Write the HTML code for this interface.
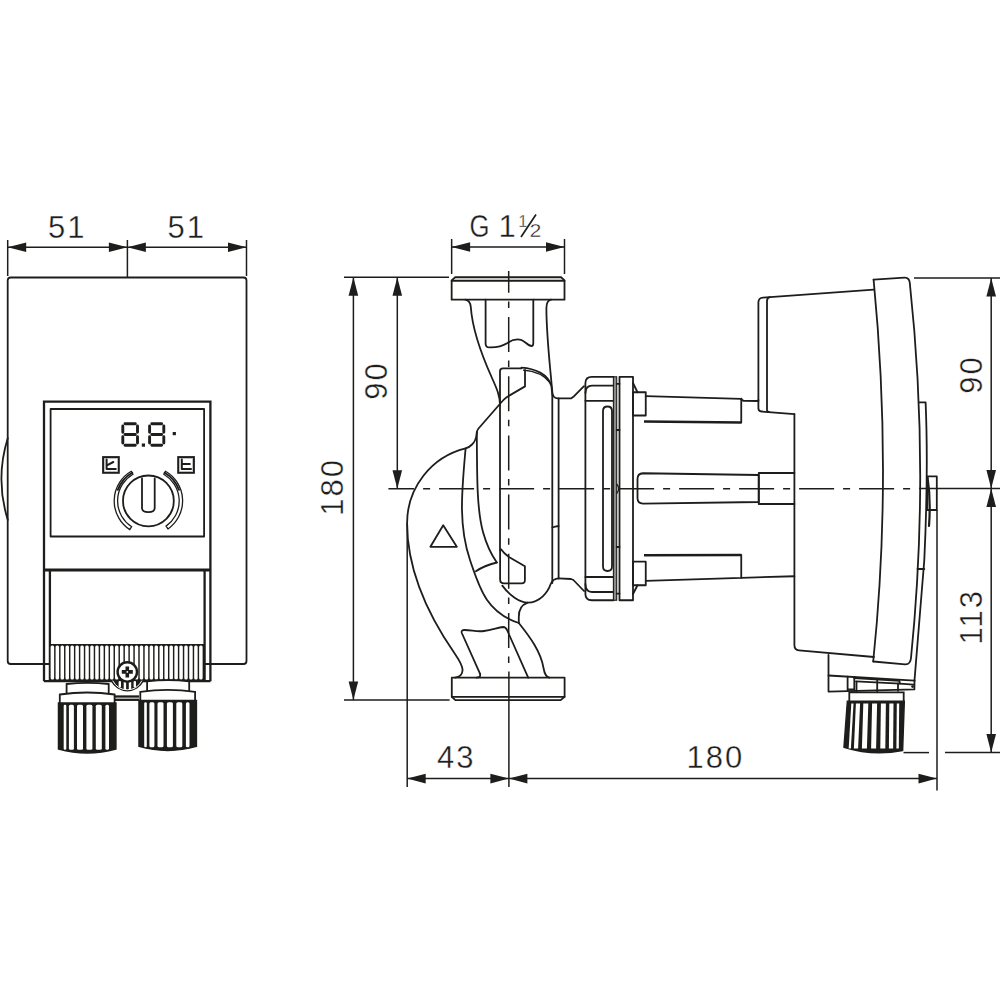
<!DOCTYPE html>
<html><head><meta charset="utf-8"><style>
html,body{margin:0;padding:0;background:#fff;overflow:hidden;}
svg{display:block;}
.d{stroke:#1d1d1b;stroke-width:1.5;fill:none;}
.o{stroke:#1d1d1b;stroke-width:1.8;fill:none;stroke-linejoin:round;stroke-linecap:round;}
.o1{stroke:#1d1d1b;stroke-width:1.3;fill:none;}
.ow{stroke:#1d1d1b;stroke-width:1.8;fill:#fff;}
.o2{stroke:#1d1d1b;stroke-width:2.3;fill:none;}
.o3{stroke:#1d1d1b;stroke-width:3.2;fill:none;}
.kb{stroke:#1d1d1b;stroke-width:1.5;fill:#1d1d1b;}
.wf{fill:#fff;stroke:none;}
.seg{stroke:#1d1d1b;stroke-width:2.9;fill:none;stroke-linecap:round;}
.f{fill:#1d1d1b;stroke:none;}
.gk{stroke:#1d1d1b;stroke-width:1.1;fill:#8a8a8a;}
.ah{fill:#1d1d1b;stroke:none;}
.cl{stroke:#1d1d1b;stroke-width:1.5;fill:none;}
.sl{stroke:#1d1d1b;stroke-width:2;}
.sl2{stroke:#1d1d1b;stroke-width:1.7;}
.t{font-family:"Liberation Sans",sans-serif;font-size:31px;fill:#1d1d1b;stroke:#fff;stroke-width:0.35px;paint-order:fill;}
</style></head><body>
<svg width="1000" height="1000" viewBox="0 0 1000 1000">
<line x1="7.7" y1="240" x2="7.7" y2="276" class="d"/>
<line x1="127.4" y1="240" x2="127.4" y2="278" class="d"/>
<line x1="246.5" y1="240" x2="246.5" y2="276" class="d"/>
<line x1="7.7" y1="247.3" x2="127.4" y2="247.3" class="d"/>
<path d="M7.7,247.3 L26.2,242.5 L26.2,252.1 Z" class="ah"/>
<path d="M127.4,247.3 L108.9,252.1 L108.9,242.5 Z" class="ah"/>
<line x1="127.4" y1="247.3" x2="246.5" y2="247.3" class="d"/>
<path d="M127.4,247.3 L145.9,242.5 L145.9,252.1 Z" class="ah"/>
<path d="M246.5,247.3 L228.0,252.1 L228.0,242.5 Z" class="ah"/>
<text x="67.25" y="238" class="t" text-anchor="middle" letter-spacing="2.0">51</text>
<text x="186.65" y="238" class="t" text-anchor="middle" letter-spacing="2.0">51</text>
<rect x="7.7" y="277.5" width="238.8" height="386.5" rx="3" class="o"/>
<path d="M7.8,438 Q-5,479 7.8,520" class="o" />
<path d="M44,681.2 V401.6 H210.4 V681.2" class="o2" />
<rect x="50.6" y="409" width="153.5" height="127.5" class="o"/>
<line x1="44" y1="570" x2="210.4" y2="570" class="o3"/>
<line x1="49.9" y1="570" x2="49.9" y2="681.2" class="o2"/>
<line x1="204.6" y1="570" x2="204.6" y2="681.2" class="o2"/>
<path d="M44,681.2 H210.4" class="o2" />
<rect x="49.9" y="644" width="154.7" height="37" class="f"/>
<rect x="50.62" y="645.6" width="3.5" height="34" rx="1.5" class="wf"/>
<rect x="55.58" y="645.6" width="3.5" height="34" rx="1.5" class="wf"/>
<rect x="60.53" y="645.6" width="3.5" height="34" rx="1.5" class="wf"/>
<rect x="65.48" y="645.6" width="3.5" height="34" rx="1.5" class="wf"/>
<rect x="70.43" y="645.6" width="3.5" height="34" rx="1.5" class="wf"/>
<rect x="75.38" y="645.6" width="3.5" height="34" rx="1.5" class="wf"/>
<rect x="80.33" y="645.6" width="3.5" height="34" rx="1.5" class="wf"/>
<rect x="85.28" y="645.6" width="3.5" height="34" rx="1.5" class="wf"/>
<rect x="90.23" y="645.6" width="3.5" height="34" rx="1.5" class="wf"/>
<rect x="95.18" y="645.6" width="3.5" height="34" rx="1.5" class="wf"/>
<rect x="100.13" y="645.6" width="3.5" height="34" rx="1.5" class="wf"/>
<rect x="105.08" y="645.6" width="3.5" height="34" rx="1.5" class="wf"/>
<rect x="110.03" y="645.6" width="3.5" height="34" rx="1.5" class="wf"/>
<rect x="114.98" y="645.6" width="3.5" height="34" rx="1.5" class="wf"/>
<rect x="119.93" y="645.6" width="3.5" height="34" rx="1.5" class="wf"/>
<rect x="124.88" y="645.6" width="3.5" height="34" rx="1.5" class="wf"/>
<rect x="129.83" y="645.6" width="3.5" height="34" rx="1.5" class="wf"/>
<rect x="134.78" y="645.6" width="3.5" height="34" rx="1.5" class="wf"/>
<rect x="139.73" y="645.6" width="3.5" height="34" rx="1.5" class="wf"/>
<rect x="144.68" y="645.6" width="3.5" height="34" rx="1.5" class="wf"/>
<rect x="149.62" y="645.6" width="3.5" height="34" rx="1.5" class="wf"/>
<rect x="154.57" y="645.6" width="3.5" height="34" rx="1.5" class="wf"/>
<rect x="159.52" y="645.6" width="3.5" height="34" rx="1.5" class="wf"/>
<rect x="164.47" y="645.6" width="3.5" height="34" rx="1.5" class="wf"/>
<rect x="169.42" y="645.6" width="3.5" height="34" rx="1.5" class="wf"/>
<rect x="174.37" y="645.6" width="3.5" height="34" rx="1.5" class="wf"/>
<rect x="179.32" y="645.6" width="3.5" height="34" rx="1.5" class="wf"/>
<rect x="184.27" y="645.6" width="3.5" height="34" rx="1.5" class="wf"/>
<rect x="189.22" y="645.6" width="3.5" height="34" rx="1.5" class="wf"/>
<rect x="194.17" y="645.6" width="3.5" height="34" rx="1.5" class="wf"/>
<rect x="199.12" y="645.6" width="3.5" height="34" rx="1.5" class="wf"/>
<path d="M125.0,423.7 H135.3 M125.0,434.45 H135.3 M125.0,445.2 H135.3 M122.8,425.9 V432.25 M137.5,425.9 V432.25 M122.8,436.65 V443.0 M137.5,436.65 V443.0" class="seg"/>
<path d="M151.79999999999998,423.7 H161.6 M151.79999999999998,434.45 H161.6 M151.79999999999998,445.2 H161.6 M149.6,425.9 V432.25 M163.79999999999998,425.9 V432.25 M149.6,436.65 V443.0 M163.79999999999998,436.65 V443.0" class="seg"/>
<rect x="141.8" y="443.5" width="3.2" height="3.2" class="f"/>
<rect x="172.7" y="432" width="3.2" height="3.2" class="f"/>
<rect x="103.1" y="457.1" width="15.7" height="15.7" style="stroke:#1d1d1b;stroke-width:2;fill:none"/>
<rect x="104.6" y="458.6" width="12.7" height="12.7" style="stroke:#aaa;stroke-width:0.6;fill:none"/>
<rect x="178.2" y="457.1" width="15.7" height="15.7" style="stroke:#1d1d1b;stroke-width:2;fill:none"/>
<rect x="179.7" y="458.6" width="12.7" height="12.7" style="stroke:#aaa;stroke-width:0.6;fill:none"/>
<path d="M106.6,459.6 V469 H115.8 M106.9,465.3 L113.3,462" class="o" style="stroke-width:2"/>
<path d="M181.8,459.6 V469 H191 M181.8,464.1 H189.8" class="o" style="stroke-width:2"/>
<circle cx="148.4" cy="500.9" r="25.4" class="o"/>
<path d="M142,478.5 V508 Q142,512.2 148.35,512.2 Q154.7,512.2 154.7,508 V478.5" class="o" />
<path d="M133.00,474.23 A30.8,30.8 0 0 0 131.63,526.73 L129.77,529.58 A34.2,34.2 0 0 1 131.30,471.28 Z" class="o1" />
<path d="M163.80,474.23 A30.8,30.8 0 0 1 166.07,526.13 L168.02,528.91 A34.2,34.2 0 0 0 165.50,471.28 Z" class="o1" />
<path d="M132.15,472.75 A32.5,32.5 0 0 0 117.86,489.78" class="o" style="stroke-width:2.0"/>
<path d="M164.65,472.75 A32.5,32.5 0 0 1 178.94,489.78" class="o" style="stroke-width:2.0"/>
<path d="M110.8,681 A18.3,18.3 0 0 0 143.8,681 Z" class="f"/>
<path d="M112.9,681 A16.2,16.2 0 0 0 141.7,681" class="o" style="stroke:#fff;stroke-width:1"/>
<rect x="118.6" y="681" width="2.4" height="6.5" rx="1" class="wf"/>
<rect x="123.7" y="681" width="2.4" height="8.5" rx="1" class="wf"/>
<rect x="128.8" y="681" width="2.4" height="8.5" rx="1" class="wf"/>
<rect x="133.6" y="681" width="2.4" height="6.5" rx="1" class="wf"/>
<line x1="115" y1="696.5" x2="139" y2="696.5" class="o2"/>
<line x1="115" y1="699.8" x2="139" y2="699.8" class="o2"/>
<circle cx="127.3" cy="671.9" r="9.7" style="fill:#fff;stroke:#1d1d1b;stroke-width:2.4"/>
<path d="M125.5,666.4 h3.6 v3.7 h3.7 v3.6 h-3.7 v3.7 h-3.6 v-3.7 h-3.7 v-3.6 h3.7 Z" class="f" />
<circle cx="127.3" cy="671.9" r="0.9" class="wf"/>
<g transform="translate(0,0)">
<path d="M66.6,693.5 V684 Q87.6,681.6 108.7,684 V693.5" class="ow" />
<path d="M59.8,703 V694.5 Q87.2,690.5 114.6,694.5 V703" class="ow" />
<path d="M58.5,703 H115.9 V749 Q87.2,757 58.5,749 Z" class="kb"/>
<rect x="63.70" y="704.8" width="2.6" height="45" rx="1.3" class="wf"/>
<rect x="68.90" y="704.8" width="5.0" height="45" rx="1.5" class="wf"/>
<rect x="77.00" y="704.8" width="6.0" height="45" rx="1.5" class="wf"/>
<rect x="86.40" y="704.8" width="6.0" height="45" rx="1.5" class="wf"/>
<rect x="95.80" y="704.8" width="6.0" height="45" rx="1.5" class="wf"/>
<rect x="105.40" y="704.8" width="3.6" height="45" rx="1.5" class="wf"/>
</g>
<g transform="translate(80.5,-2.6)">
<path d="M66.6,693.5 V684 Q87.6,681.6 108.7,684 V693.5" class="ow" />
<path d="M59.8,703 V694.5 Q87.2,690.5 114.6,694.5 V703" class="ow" />
<path d="M58.5,703 H115.9 V749 Q87.2,757 58.5,749 Z" class="kb"/>
<rect x="63.70" y="704.8" width="2.6" height="45" rx="1.3" class="wf"/>
<rect x="68.90" y="704.8" width="5.0" height="45" rx="1.5" class="wf"/>
<rect x="77.00" y="704.8" width="6.0" height="45" rx="1.5" class="wf"/>
<rect x="86.40" y="704.8" width="6.0" height="45" rx="1.5" class="wf"/>
<rect x="95.80" y="704.8" width="6.0" height="45" rx="1.5" class="wf"/>
<rect x="105.40" y="704.8" width="3.6" height="45" rx="1.5" class="wf"/>
</g>
<line x1="451.65" y1="239" x2="451.65" y2="274" class="d"/>
<line x1="564.5" y1="239" x2="564.5" y2="274" class="d"/>
<line x1="451.65" y1="247" x2="564.5" y2="247" class="d"/>
<path d="M451.6,247.0 L470.1,242.2 L470.1,251.8 Z" class="ah"/>
<path d="M564.5,247.0 L546.0,251.8 L546.0,242.2 Z" class="ah"/>
<text x="469.5" y="237" class="t" transform="translate(469.5,0) scale(0.83,1) translate(-469.5,0)">G</text>
<text x="498.5" y="237" class="t">1</text>
<text x="518.3" y="226.5" class="t" style="font-size:16.5px">1</text>
<line x1="536" y1="214.5" x2="521" y2="237" class="sl2"/>
<text x="0" y="0" class="t" style="font-size:19px" transform="translate(529.6,237) scale(1.12,1)">2</text>
<line x1="344" y1="277.25" x2="449" y2="277.25" class="d"/>
<line x1="914" y1="277.9" x2="1000" y2="277.9" class="d"/>
<line x1="353.4" y1="277.25" x2="353.4" y2="700" class="d"/>
<path d="M353.4,277.2 L358.2,295.8 L348.6,295.8 Z" class="ah"/>
<path d="M353.4,700.0 L348.6,681.5 L358.2,681.5 Z" class="ah"/>
<line x1="397.3" y1="277.25" x2="397.3" y2="488.7" class="d"/>
<path d="M397.3,277.2 L402.1,295.8 L392.5,295.8 Z" class="ah"/>
<path d="M397.3,488.7 L392.5,470.2 L402.1,470.2 Z" class="ah"/>
<text transform="translate(387.2,380.50) rotate(-90)" class="t" text-anchor="middle" letter-spacing="2.0">90</text>
<text transform="translate(342.8,486.80) rotate(-90)" class="t" text-anchor="middle" letter-spacing="2.0">180</text>
<line x1="344" y1="700" x2="449.6" y2="700" class="d"/>
<line x1="407.2" y1="523" x2="407.2" y2="787" class="d"/>
<line x1="937" y1="510" x2="937" y2="790.5" class="d"/>
<line x1="407.2" y1="778.6" x2="508.9" y2="778.6" class="d"/>
<path d="M407.2,778.6 L425.7,773.8 L425.7,783.4 Z" class="ah"/>
<path d="M508.9,778.6 L490.4,783.4 L490.4,773.8 Z" class="ah"/>
<line x1="508.9" y1="778.6" x2="937" y2="778.6" class="d"/>
<path d="M508.9,778.6 L527.4,773.8 L527.4,783.4 Z" class="ah"/>
<path d="M937.0,778.6 L918.5,783.4 L918.5,773.8 Z" class="ah"/>
<text x="456.20" y="768.3" class="t" text-anchor="middle" letter-spacing="2.0">43</text>
<text x="715.40" y="768.3" class="t" text-anchor="middle" letter-spacing="2.0">180</text>
<line x1="991.2" y1="277.9" x2="991.2" y2="488.6" class="d"/>
<path d="M991.2,277.9 L996.0,296.4 L986.4,296.4 Z" class="ah"/>
<path d="M991.2,488.6 L986.4,470.1 L996.0,470.1 Z" class="ah"/>
<line x1="991.2" y1="488.6" x2="991.2" y2="752.6" class="d"/>
<path d="M991.2,488.6 L996.0,507.1 L986.4,507.1 Z" class="ah"/>
<path d="M991.2,752.6 L986.4,734.1 L996.0,734.1 Z" class="ah"/>
<text transform="translate(981.7,374.60) rotate(-90)" class="t" text-anchor="middle" letter-spacing="2.0">90</text>
<text transform="translate(982.2,616.80) rotate(-90)" class="t" text-anchor="middle" letter-spacing="2.0">113</text>
<line x1="903.5" y1="752.6" x2="929" y2="752.6" class="d"/>
<line x1="945" y1="752.6" x2="1000" y2="752.6" class="d"/>
<line x1="388.4" y1="488.7" x2="916" y2="488.7" class="cl" stroke-dasharray="35 9 7 9" stroke-dashoffset="9.3"/>
<line x1="919" y1="488.6" x2="1000" y2="488.6" class="d"/>
<line x1="508.7" y1="271" x2="508.7" y2="664" class="cl" stroke-dasharray="35 8.6 6.5 9.1" stroke-dashoffset="13.2"/>
<line x1="508.9" y1="671.5" x2="508.9" y2="787" class="d"/>
<path d="M451.65,299.65 V280.4 L455.2,277.25 H561.1 L564.5,280.4 V299.65 Z" class="o" />
<path d="M451.65,280.75 H564.5" class="o" />
<path d="M465.3,299.65 Q470.2,300.5 470.8,307 C472.5,332 483,358 492,378 C497,389 500,396 500,405" class="o" />
<path d="M551,299.65 Q546.4,300.8 546.4,308 C546.4,335 549.5,360 552.3,392 Q552.6,398.4 558,398.4 H571 L573.4,396.8 L584,386.2" class="o" />
<path d="M485.6,299.65 V344 Q485.8,347.5 489.5,347.4 C496,347.6 502,346.5 507.5,343 C511,340.5 515,338.5 521,339.8 C525,341 528,346 531.5,346 Q533.3,346 533.3,343 V299.65" class="o" />
<path d="M521.4,367.6 C535,368.5 548,374 551.4,386 L552.3,395" class="o" />
<path d="M523,370.2 C535,371 545,376 550.6,383.4" class="o1" />
<path d="M500,550 V371 Q500,368.4 503,368.4 H521.4" class="o" />
<path d="M525,370 V386.4 L507,397 Q504.5,398.6 502.5,401 L478.5,428.5 Q476.8,430.5 476.8,433" class="o" />
<path d="M476.8,433 Q476,441 472,444.5 Q469,447.6 465.6,448.4 A76.9,76.9 0 0 0 407.1,523.2 C407.1,570 428,615 455,654 Q462.5,665 462.6,670 Q462.4,676.5 455,677.7" class="o" />
<path d="M465.6,448.4 C462,490 458,525 470,560 C479.6,588 486,612 518.8,623" class="o" />
<path d="M476.8,432 C477,480 477,510 483,532 Q488,550 496.8,562.5" class="o" />
<path d="M475.9,571.3 Q484,565.5 496.8,562.5" class="o" />
<path d="M500.1,550 V579.5 Q500.1,583.2 504,583.4 H521.5 Q524.9,583.6 524.9,580 V566.3 L508.9,557 Q503.5,553 501,549.3" class="o" />
<path d="M502.3,585.6 C510,596 520,602.6 527.6,602.6 C540,602.6 548,592 550.7,584 Q553,578.6 558.6,578.4" class="o" />
<path d="M527.6,602.6 Q518.5,606 518.8,617 L518.8,623" class="o" />
<path d="M518.8,623 C530,637 541,652 543.5,668 Q545,677 549.5,677.7" class="o" />
<path d="M480.1,673.8 L461.8,633 Q460.8,630 464.5,630 C472,630 476,632 484,631 C492,630 498,627.5 503,627 Q506,627 507.5,631 L528.2,677.7" class="o" />
<path d="M480.1,673.8 Q481,677.7 476.5,677.7" class="o" />
<path d="M451.8,677.7 H564.6 V696.8 L560.7,700.1 H455.4 L451.8,696.8 Z" class="o" />
<path d="M451.8,696.8 H564.6" class="o" />
<path d="M552.3,395 V583" class="o" />
<path d="M558.6,398.4 V578.4" class="o" />
<path d="M552.3,527.5 Q555,526.5 558.6,526" class="o" />
<path d="M443.2,525.2 L430.4,546.8 H456.8 Z" class="o" />
<path d="M613.5,376.8 H591.8 Q585.4,376.8 585.4,383.2 V594 Q585.4,600.25 591.8,600.25 H613.5" class="o" />
<path d="M585.4,393 Q585.6,385.6 592,385.6 H613.5" class="o" />
<path d="M585.4,400.8 H613.5" class="o" />
<path d="M585.4,577 H613.5" class="o" />
<path d="M585.4,584 Q585.6,592 592,592 H613.5" class="o" />
<path d="M584,591 L573.4,580 L571,579 L558.6,578.4" class="o" />
<path d="M603,566.5 V411 Q603,406.5 607.5,406.5 Q612,406.5 612,411 V566.5 Q612,571 607.5,571 Q603,571 603,566.5 Z" class="o" />
<rect x="613.4" y="376.8" width="3.3" height="223.45" class="gk"/>
<path d="M616.7,430 H619.5 M616.7,547 H619.5 M616.7,383.8 H619.5 M616.7,593.6 H619.5" class="o" />
<path d="M616.7,484 Q620.5,488.7 616.7,493.5" class="o1" />
<rect x="619.5" y="376.8" width="13.5" height="223.45" class="o"/>
<path d="M633,383 L637.5,392.25 M633,594 L637.5,585.25" class="o" />
<rect x="633" y="392.25" width="12.75" height="23.25" class="o"/>
<rect x="633" y="561.7" width="12.75" height="23.55" class="o"/>
<path d="M645.75,396.2 L741.25,398.8 V422.5" class="o" />
<path d="M644,421.5 L741.25,422.5" class="o2" />
<path d="M645.75,580.8 L741.25,577.8 V555" class="o" />
<path d="M644,555.25 L741.25,555" class="o2" />
<path d="M758.75,475 L643,473.25 Q637.5,473.5 637.5,479 V498 Q637.5,503.5 643,503.6 L758.75,502 Z" class="o" />
<path d="M758.75,473 H794.4 M758.75,504 H794.4 M758.75,473 V504" class="o" />
<path d="M741.25,398.6 Q742,400.8 744.5,400.8 L758.4,401" class="o" />
<path d="M794.4,414.2 V645 Q794.4,650 799,650.3 L874,657" class="o" />
<path d="M741.25,577.8 L794.4,576.25" class="o" />
<path d="M758.4,400 V302.5 Q758.4,297.9 763,297.6 L873.8,289.6" class="o" />
<path d="M770,297.2 Q767,297.6 767,301 V410 Q767,411.9 769,412" class="o" />
<path d="M758.4,400 V408.2 Q758.4,411.3 761.5,411.5 L794.4,414.2" class="o" />
<path d="M873.6,279.6 Q892.6,475 873.2,661.5" class="o" />
<path d="M873.6,279.6 L904.5,277.6 Q909.3,277.4 909.8,283 Q930,470 911,658 Q910.4,664.6 905,664.3 L873.2,661.5" class="o" />
<path d="M918.8,402.4 H925.6 Q928.5,470 924.3,560 L914.5,680.4" class="o" />
<path d="M917.5,569 H924.3" class="o" />
<path d="M927.2,476.4 H936.8 V510 H927.2 Z" class="o" />
<path d="M927.5,477 Q931,500 929,526" class="o" style="stroke-width:2.2"/>
<path d="M828.5,654.8 V691.6 L914.4,689.4 L914.5,680.4" class="o" />
<path d="M828.5,675.5 L914.5,680.6" class="o" />
<path d="M847.6,676.6 V690.5 M854.3,677 V690.3 M847.6,689.5 H854.3" class="o" />
<path d="M854.3,678.2 L899.5,680.9 L899.8,683.6 L856,681.4" class="o" />
<path d="M856.5,681.6 V691.8 M898,683.5 V690.8 M877.2,680 V691.6" class="o" />
<path d="M899.8,683.6 L913.8,684.6" class="o" />
<circle cx="912.6" cy="686.6" r="1.4" class="f"/>
<path d="M849.3,701.5 V692.3 H903.7 V701.5" class="ow" />
<path d="M847.4,701.3 H904.3 L902.6,750.5 Q873,756.5 844,747.3 Z" class="kb"/>
<path d="M851.30,703.5 H853.50 L850.90,748.5 H848.70 Z" class="wf"/>
<path d="M855.90,703.5 H860.10 L858.10,748.5 H853.90 Z" class="wf"/>
<path d="M863.30,703.5 H868.30 L866.90,748.5 H861.90 Z" class="wf"/>
<path d="M872.10,703.5 H877.10 L876.10,748.5 H871.10 Z" class="wf"/>
<path d="M880.90,703.5 H885.90 L885.30,748.5 H880.30 Z" class="wf"/>
<path d="M889.30,703.5 H893.50 L893.10,748.5 H888.90 Z" class="wf"/>
<path d="M896.80,703.5 H899.20 L898.80,748.5 H896.40 Z" class="wf"/>
</svg>
</body></html>
